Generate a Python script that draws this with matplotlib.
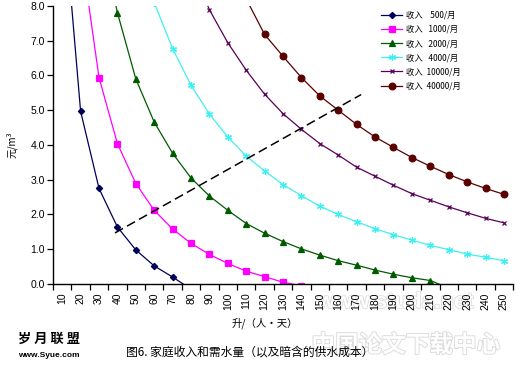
import numpy as np
import matplotlib.pyplot as plt
import matplotlib.patheffects as pe

plt.rcParams['font.family'] = ['Liberation Sans', 'Noto Sans CJK SC', 'DejaVu Sans']
cjk = ['Noto Sans CJK SC', 'DejaVu Sans']

# categories on the x axis (litres per person per day)
cats = list(range(10, 260, 10))

# water price (yuan/m3), one per household income
q_500 = [10, 20, 30, 40, 50, 60, 70, 80]
p_500 = [11.2, 4.97, 2.75, 1.64, 0.98, 0.52, 0.20, -0.15]

q_1000 = [20, 30, 40, 50, 60, 70, 80, 90, 100, 110, 120, 130, 140]
p_1000 = [9.7, 5.94, 4.04, 2.89, 2.12, 1.58, 1.17, 0.85, 0.59, 0.37, 0.21, 0.05, -0.05]

q_2000 = list(range(30, 230, 10))
p_2000 = [10.2, 7.81, 5.9, 4.66, 3.76, 3.05, 2.53, 2.12, 1.74, 1.46,
          1.22, 1.01, 0.83, 0.67, 0.54, 0.40, 0.28, 0.18, 0.10, -0.12]

q_4000 = list(range(50, 260, 10))
p_4000 = [9.8, 8.1, 6.77, 5.72, 4.89, 4.23, 3.68, 3.25, 2.86, 2.54, 2.24,
          2.0, 1.79, 1.59, 1.42, 1.26, 1.11, 0.99, 0.86, 0.77, 0.67]

q_10000 = list(range(80, 260, 10))
p_10000 = [9.2, 7.89, 6.94, 6.15, 5.46, 4.9, 4.45, 4.04, 3.71, 3.36,
           3.1, 2.84, 2.6, 2.41, 2.22, 2.05, 1.89, 1.76]

q_40000 = list(range(110, 260, 10))
p_40000 = [8.2, 7.18, 6.55, 5.94, 5.41, 5.0, 4.59, 4.23, 3.93, 3.64,
           3.39, 3.15, 2.94, 2.75, 2.58]

# implied supply cost line (dashed)
cost_q = [38.7, 172.4]
cost_p = [1.47, 5.45]

labels = ['收入    500/月', '收入   1000/月', '收入   2000/月',
          '收入   4000/月', '收入  10000/月', '收入  40000/月']


def pos(q):
    # category position: 10 -> 0, 20 -> 1, ...
    return (np.asarray(q, dtype=float) - 10) / 10


fig = plt.figure(figsize=(5.17, 3.68), dpi=100)
ax = fig.add_axes([0.1025, 0.2283, 0.890, 0.7554])
ax.patch.set_alpha(0)

series = [
    (q_500, p_500, '#00005a', 'D', 3.2),
    (q_1000, p_1000, '#ff00ff', 's', 4.2),
    (q_2000, p_2000, '#005a00', '^', 4.5),
    (q_4000, p_4000, '#3ff0f0', (6, 2, 0), 5),
    (q_10000, p_10000, '#5a005a', 'x', 3.5),
    (q_40000, p_40000, '#5a0000', 'o', 4.8),
]
for (q, p, c, m, ms), lab in zip(series, labels):
    ax.plot(pos(q), p, color=c, lw=0.9, marker=m, ms=ms, mfc=c, mec=c,
            mew=0.9, label=lab)

ax.plot(pos(cost_q), cost_p, color='black', lw=1.1, dashes=(6, 3))

ax.set_xlim(-0.5, len(cats) - 0.5)
ax.set_ylim(0, 8)
ax.set_yticks(np.arange(0, 8.1, 1.0))
ax.set_yticklabels([f'{v:.1f}' for v in np.arange(0, 8.1, 1.0)], fontsize=7.5)
ax.set_xticks(np.arange(len(cats)))
ax.set_xticklabels([str(c) for c in cats], rotation=90, fontsize=7.5)
ax.set_xticks(np.arange(len(cats) + 1) - 0.5, minor=True)
ax.tick_params(axis='x', which='major', length=0, pad=6)
ax.tick_params(axis='x', which='minor', length=4, direction='out', width=0.9)
ax.tick_params(axis='y', length=4, direction='out', width=0.9, pad=2)
for s in ['top', 'right']:
    ax.spines[s].set_visible(False)
for s in ['left', 'bottom']:
    ax.spines[s].set_linewidth(1.0)

ax.set_ylabel('元/m³', family=cjk, fontsize=7, labelpad=9)

leg = ax.legend(loc='upper left', bbox_to_anchor=(0.705, 0.995), frameon=False,
                prop={'family': cjk, 'size': 6}, handlelength=2.6,
                labelspacing=0.62, handletextpad=0.4, borderaxespad=0)

fig.text(0.512, 0.122, '升/（人•天）', family=cjk, fontsize=7.5, ha='center', va='center')

# watermarks
fig.text(0.765, 0.178, 'www.studa.net', fontsize=16, fontweight='bold',
         color='white', ha='center', va='center', zorder=-1,
         path_effects=[pe.withStroke(linewidth=1.2, foreground='#dcdcdc')])
fig.text(0.785, 0.062, '中国论文下载中心', family=cjk, fontsize=17, fontweight='bold',
         color='white', ha='center', va='center', zorder=-1,
         path_effects=[pe.withStroke(linewidth=1.2, foreground='#d8d8d8')])

fig.text(0.094, 0.080, '岁 月 联 盟', family=cjk, fontsize=9.5, fontweight='bold',
         ha='center', va='center')
fig.text(0.094, 0.033, 'www.Syue.com', fontsize=6, fontweight='bold',
         ha='center', va='center')
fig.text(0.482, 0.042, '图6. 家庭收入和需水量（以及暗含的供水成本）', family=cjk,
         fontsize=8.5, ha='center', va='center')

fig.savefig('out.png', dpi=100)
